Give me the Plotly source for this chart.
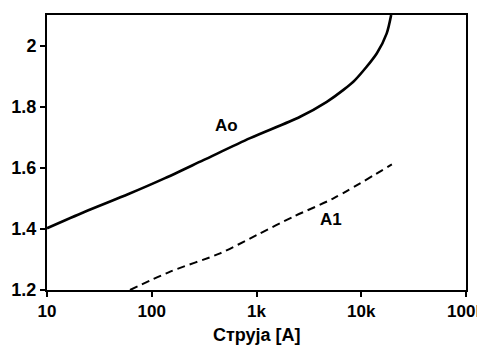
import math
import plotly.graph_objects as go

# Data
ao_current = [10, 23, 60, 134, 311, 869, 2609, 4690, 6760, 8710, 14100, 17500, 19300]
ao_value = [1.402, 1.456, 1.514, 1.566, 1.625, 1.697, 1.767, 1.816, 1.855, 1.887, 1.975, 2.04, 2.10]

a1_current = [62, 150, 449, 1007, 2250, 5430, 19600]
a1_value = [1.20, 1.26, 1.32, 1.38, 1.44, 1.50, 1.611]

x_tick_vals = [10, 100, 1000, 10000, 100000]
x_tick_text = ["10", "100", "1k", "10k", "100k"]
y_tick_vals = [1.2, 1.4, 1.6, 1.8, 2.0]
y_tick_text = ["1.2", "1.4", "1.6", "1.8", "2"]

labels = ["Ao", "A1"]
label_x = [520, 5120]
label_y = [1.74, 1.43]

x_title = "Струја [A]"

FONT = "Liberation Sans, Arial, sans-serif"

fig = go.Figure()
fig.add_trace(go.Scatter(x=ao_current, y=ao_value, mode="lines",
                         line=dict(color="black", width=2.6, shape="spline", smoothing=0.8),
                         showlegend=False))
fig.add_trace(go.Scatter(x=a1_current, y=a1_value, mode="lines",
                         line=dict(color="black", width=2, dash="8px,5px", shape="spline", smoothing=0.8),
                         showlegend=False))
for t, xv, yv in zip(labels, label_x, label_y):
    fig.add_annotation(x=math.log10(xv), y=yv, xref="x", yref="y", text="<b>%s</b>" % t,
                       showarrow=False, font=dict(family=FONT, size=17, color="black"))

fig.add_annotation(x=0.5, y=-0.164, xref="paper", yref="paper", xanchor="center", yanchor="middle",
                   text="<b>%s</b>" % x_title, showarrow=False,
                   font=dict(family=FONT, size=18, color="black"))

# page body has an 8px margin, so the figure is sized/offset to land the plot where the reference has it
fig.update_layout(
    width=477, height=337,
    margin=dict(l=39, r=19, t=7, b=55),
    paper_bgcolor="white", plot_bgcolor="white",
    font=dict(family=FONT, size=17, color="black"),
)
fig.update_xaxes(type="log", range=[1, 5.00001], tickvals=x_tick_vals, ticktext=x_tick_text,
                 showgrid=False, zeroline=False, showline=True, linecolor="black", linewidth=2,
                 mirror=True, ticks="outside", ticklen=5, tickwidth=1.5, tickcolor="black",
                 ticklabeloverflow="allow", automargin=False,
                 tickfont=dict(family=FONT, size=17, color="black", weight="bold"))
fig.update_yaxes(range=[1.2, 2.1], tickvals=y_tick_vals, ticktext=y_tick_text,
                 showgrid=False, zeroline=False, showline=True, linecolor="black", linewidth=2,
                 mirror=True, ticks="outside", ticklen=5, tickwidth=1.5, tickcolor="black",
                 automargin=False,
                 tickfont=dict(family=FONT, size=18, color="black", weight="bold"))

fig.write_html("out.html")
